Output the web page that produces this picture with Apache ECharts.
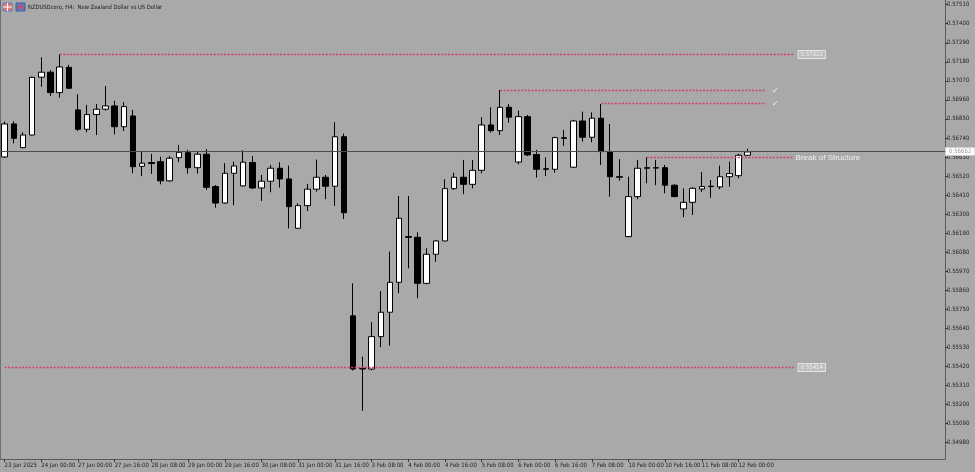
<!DOCTYPE html>
<html>
<head>
<meta charset="utf-8">
<script src="https://cdn.jsdelivr.net/npm/echarts@6/dist/echarts.min.js"></script>
<style>
html,body{margin:0;padding:0;background:#a9a9a9;}
#chart{width:975px;height:472px;}
</style>
</head>
<body>
<div id="chart"></div>
<script>
// ---- data ----
const tickLabels = ['23 Jan 2025','24 Jan 00:00','27 Jan 00:00','27 Jan 16:00','28 Jan 08:00','29 Jan 00:00','29 Jan 16:00','30 Jan 08:00','31 Jan 00:00','31 Jan 16:00','3 Feb 08:00','4 Feb 00:00','4 Feb 16:00','5 Feb 08:00','6 Feb 00:00','6 Feb 16:00','7 Feb 08:00','10 Feb 00:00','10 Feb 16:00','11 Feb 08:00','12 Feb 00:00'];
const priceTicks = [0.57510,0.57400,0.57290,0.57180,0.57070,0.56960,0.56850,0.56740,0.56630,0.56520,0.56410,0.56300,0.56190,0.56080,0.55970,0.55860,0.55750,0.55640,0.55530,0.55420,0.55310,0.55200,0.55090,0.54980];

const opens = [0.56630,0.56821,0.56684,0.56757,0.57091,0.57120,0.57002,0.57148,0.56902,0.56790,
0.56875,0.56906,0.56925,0.56805,0.56867,0.56576,0.56598,0.56603,0.56492,0.56626,
0.56655,0.56568,0.56646,0.56459,0.56364,0.56536,0.56463,0.56598,0.56451,0.56490,
0.56565,0.56503,0.56218,0.56349,0.56444,0.56513,0.56461,0.56747,0.55712,0.55409,
0.55405,0.55592,0.55733,0.55906,0.56170,0.56166,0.55900,0.56068,0.56145,0.56447,
0.56513,0.56472,0.56553,0.56815,0.56782,0.56917,0.56601,0.56863,0.56644,0.56562,
0.56559,0.56741,0.56571,0.56838,0.56744,0.56854,0.56661,0.56516,0.56170,0.56401,
0.56568,0.56568,0.56568,0.56467,0.56330,0.56368,0.56445,0.56461,0.56457,0.56516,
0.56522,0.56640];
const closes = [0.56821,0.56738,0.56757,0.57090,0.57120,0.57002,0.57150,0.57027,0.56790,0.56875,
0.56906,0.56925,0.56805,0.56921,0.56574,0.56594,0.56592,0.56492,0.56623,0.56657,
0.56568,0.56646,0.56455,0.56364,0.56536,0.56578,0.56600,0.56451,0.56490,0.56565,
0.56503,0.56343,0.56349,0.56444,0.56513,0.56461,0.56747,0.56308,0.55405,0.55405,
0.55592,0.55733,0.55906,0.56276,0.56166,0.55900,0.56068,0.56145,0.56447,0.56513,
0.56472,0.56553,0.56815,0.56782,0.56917,0.56860,0.56863,0.56642,0.56559,0.56559,
0.56742,0.56738,0.56838,0.56744,0.56854,0.56661,0.56516,0.56513,0.56401,0.56565,
0.56565,0.56566,0.56467,0.56401,0.56368,0.56449,0.56459,0.56459,0.56516,0.56534,
0.56640,0.56659];
const highs = [0.56835,0.56836,0.56773,0.57094,0.57206,0.57133,0.57224,0.57162,0.56992,0.56931,
0.56936,0.57040,0.56954,0.56946,0.56902,0.56665,0.56648,0.56632,0.56636,0.56700,
0.56671,0.56661,0.56675,0.56468,0.56594,0.56603,0.56669,0.56636,0.56526,0.56584,
0.56600,0.56580,0.56363,0.56474,0.56615,0.56526,0.56831,0.56765,0.55900,0.55476,
0.55675,0.55856,0.56083,0.56405,0.56405,0.56195,0.56103,0.56149,0.56501,0.56539,
0.56613,0.56613,0.56860,0.56917,0.57017,0.56936,0.56898,0.56873,0.56671,0.56628,
0.56747,0.56786,0.56844,0.56892,0.56888,0.56936,0.56821,0.56617,0.56516,0.56613,
0.56628,0.56613,0.56584,0.56472,0.56449,0.56455,0.56542,0.56497,0.56580,0.56603,
0.56648,0.56678];
const lows = [0.56625,0.56709,0.56680,0.56755,0.57036,0.56983,0.56973,0.57025,0.56780,0.56773,
0.56757,0.56898,0.56761,0.56780,0.56536,0.56520,0.56532,0.56472,0.56488,0.56600,
0.56534,0.56534,0.56440,0.56337,0.56360,0.56351,0.56459,0.56445,0.56376,0.56426,
0.56453,0.56218,0.56216,0.56318,0.56430,0.56386,0.56347,0.56272,0.55396,0.55163,
0.55398,0.55531,0.55540,0.55843,0.55987,0.55814,0.55895,0.56025,0.56143,0.56440,
0.56415,0.56449,0.56536,0.56771,0.56757,0.56828,0.56588,0.56636,0.56511,0.56520,
0.56539,0.56694,0.56568,0.56719,0.56715,0.56584,0.56401,0.56493,0.56166,0.56386,
0.56478,0.56467,0.56420,0.56398,0.56282,0.56295,0.56428,0.56395,0.56444,0.56459,
0.56507,0.56638];

const currentPrice = 0.56662;
const levels = [
  {from: 6,  to: 86, price: 0.57222, kind: 'box'},
  {from: 54, to: 83, price: 0.57014, kind: 'check'},
  {from: 65, to: 83, price: 0.56939, kind: 'check'},
  {from: 70, to: 86, price: 0.56627, kind: 'text', text: 'Break of Structure'},
  {from: 0,  to: 86, price: 0.55414, kind: 'box'}
];
const titleText = 'NZDUSDcero, H4:  New Zealand Dollar vs US Dollar';

// ---- build ----
const SLOTS = 103;
const cats = Array.from({length: SLOTS}, (_, i) => String(i));
const candles = opens.map((o, i) => [o, closes[i], lows[i], highs[i]]);
const FONT = "'Liberation Sans Narrow','DejaVu Sans Condensed','Arial Narrow','Liberation Sans',sans-serif";
const showIdx = (idx) => idx % 4 === 0 && idx / 4 < tickLabels.length;
const red = '#d4406a';

const markData = levels.map(l => {
  let label;
  if (l.kind === 'box') {
    label = {show: true, position: 'end', formatter: l.price.toFixed(5), distance: 5, fontFamily: FONT, fontSize: 6,
      color: '#f2f2f2', backgroundColor: '#bcbcbc', borderColor: '#e6e6e6', borderWidth: 1, padding: [1, 2, 0, 2]};
  } else if (l.kind === 'check') {
    label = {show: true, position: 'end', formatter: '\u2713', distance: 6, fontFamily: 'DejaVu Sans', fontSize: 8, color: '#f4f4f4'};
  } else {
    label = {show: true, position: 'end', formatter: l.text, distance: 2, fontFamily: "'Liberation Sans','Arial',sans-serif", fontSize: 8, color: '#eeeeee'};
  }
  return [
    {coord: [l.from, l.price], symbol: 'none', label: label},
    {coord: [l.to, l.price], symbol: 'none'}
  ];
});
markData.push({
  yAxis: currentPrice,
  lineStyle: {color: '#4e4e4e', type: 'solid', width: 1},
  label: {show: true, position: 'end', distance: 1, formatter: currentPrice.toFixed(5),
    fontFamily: FONT, fontSize: 6, color: '#9a9a9a', backgroundColor: '#ffffff', borderColor: '#cfcfcf', borderWidth: 1, padding: [1, 3, 0, 3]}
});

const chart = echarts.init(document.getElementById('chart'), null, {renderer: 'canvas'});
chart.setOption({
  animation: false,
  backgroundColor: '#a9a9a9',
  title: {
    text: titleText, left: 28, top: 4, padding: 0,
    textStyle: {fontFamily: FONT, fontSize: 5.8, fontWeight: 'normal', color: '#1c1c1c'}
  },
  graphic: [
    {type: 'rect', shape: {x: 3, y: 3, width: 9, height: 8}, style: {fill: '#e07878', stroke: '#5a7fc0', lineWidth: 1}},
    {type: 'line', shape: {x1: 3, y1: 7, x2: 12, y2: 7}, style: {stroke: '#ffffff', lineWidth: 1}},
    {type: 'line', shape: {x1: 7.5, y1: 3, x2: 7.5, y2: 11}, style: {stroke: '#ffffff', lineWidth: 1}},
    {type: 'rect', shape: {x: 16, y: 3, width: 9, height: 8}, style: {fill: '#4f7fd0', stroke: '#3a5f9a', lineWidth: 1}},
    {type: 'polyline', shape: {points: [[17.5, 10], [19, 5], [20.5, 8], [22, 5], [23.5, 10]]}, style: {stroke: '#e04848', lineWidth: 1.2, fill: null}},
    {type: 'line', shape: {x1: 0.5, y1: 0, x2: 0.5, y2: 459}, style: {stroke: '#6e6e6e', lineWidth: 1}}
  ],
  grid: {left: -2.6, right: 30, top: 0, bottom: 13, containLabel: false},
  xAxis: {
    type: 'category', data: cats, boundaryGap: true,
    axisLine: {show: true, lineStyle: {color: '#5a5a5a', width: 1}},
    axisTick: {show: true, alignWithLabel: true, interval: showIdx, length: 3, lineStyle: {color: '#3a3a3a'}},
    axisLabel: {
      show: true, interval: showIdx, align: 'left', margin: 3,
      formatter: (v, idx) => tickLabels[Math.round(Number(v) / 4)],
      fontFamily: FONT, fontSize: 6, color: '#1e1e1e'
    },
    splitLine: {show: false}
  },
  yAxis: {
    type: 'value', position: 'right', scale: true,
    min: 0.54885, max: 0.57537,
    axisLine: {show: true, lineStyle: {color: '#5a5a5a', width: 1}},
    axisTick: {show: true, customValues: priceTicks, length: 3, lineStyle: {color: '#3a3a3a'}},
    axisLabel: {
      show: true, customValues: priceTicks, margin: 2,
      formatter: v => Number(v).toFixed(5),
      fontFamily: FONT, fontSize: 6, color: '#1e1e1e'
    },
    splitLine: {show: false}
  },
  series: [{
    type: 'candlestick',
    data: candles,
    barWidth: 6,
    itemStyle: {color: '#ffffff', color0: '#000000', borderColor: '#000000', borderColor0: '#000000', borderWidth: 1},
    markLine: {
      silent: true, symbol: ['none', 'none'], precision: 5,
      lineStyle: {color: red, type: [2, 1.5], width: 1.3},
      data: markData
    },
    z: 3
  }]
});
</script>
</body>
</html>
